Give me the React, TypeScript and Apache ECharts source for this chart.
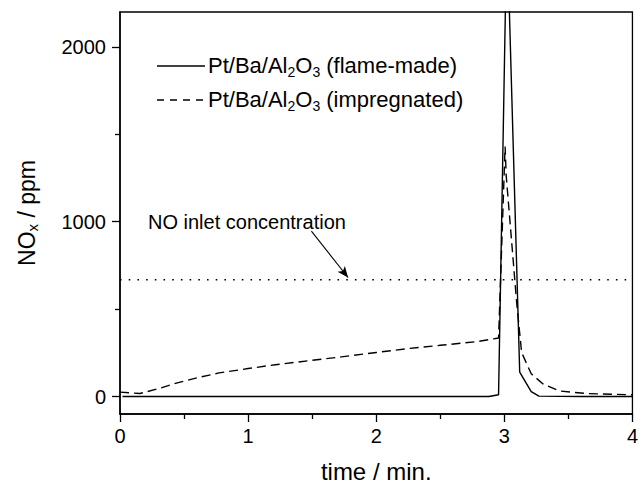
import React, { useEffect, useRef } from "react";
import * as echarts from "echarts";

// time (min) and NOx (ppm) for the flame-made catalyst
const timeFlame = [0.02, 1.0, 2.0, 2.88, 2.955, 3.02, 3.12, 3.21, 3.27, 3.6, 4.0];
const noxFlame = [0, 0, 0, 0, 10, 2700, 140, 28, 2, 0, 0];

// time (min) and NOx (ppm) for the impregnated catalyst
const timeImpr = [0, 0.155, 0.3, 0.44, 0.6, 0.774, 1.0, 1.213, 1.5, 1.728, 2.0, 2.245, 2.5, 2.786, 2.916, 2.955, 3.006, 3.015, 3.096, 3.135, 3.21, 3.3, 3.43, 3.64, 4.0];
const noxImpr = [25, 17, 45, 77, 107, 135, 160, 182, 207, 227, 252, 274, 293, 314, 330, 335, 1430, 1260, 540, 252, 130, 73, 32, 17, 10];

// NO inlet concentration (ppm)
const inletLevel = 668;
const inletStart = 0;
const inletEnd = 4;

// arrow annotation endpoints [time, ppm]
const arrowFrom = [1.494, 946];
const arrowTo = [1.78, 681];

const yMajorTicks = [0, 1000, 2000];
const yMinorTicks = [500, 1500];

const FONT = "'Liberation Sans', Arial, Helvetica, sans-serif";

const zip = (a: number[], b: number[]) => a.map((v, i) => [v, b[i]]);

export default function App() {
  const ref = useRef<HTMLDivElement>(null);
  useEffect(() => {
    if (!ref.current) return;
    const chart = echarts.init(ref.current, undefined, { renderer: "svg" });
    const rich = {
      s: { fontSize: 14, fontFamily: FONT, color: "#000", padding: [13, 0, 0, 0] },
    };
    chart.setOption({
      animation: false,
      backgroundColor: "#fff",
      textStyle: { fontFamily: FONT },
      grid: {
        left: 120,
        right: 4,
        top: 12,
        bottom: 67,
        show: true,
        borderColor: "#000",
        borderWidth: 1.3,
      },
      xAxis: {
        type: "value",
        min: 0,
        max: 4,
        interval: 1,
        name: "time / min.",
        nameLocation: "middle",
        nameGap: 45,
        nameTextStyle: { fontSize: 24, color: "#000", fontFamily: FONT },
        axisLine: { show: true, onZero: false, lineStyle: { color: "#000", width: 1.5 } },
        axisTick: { show: true, inside: false, length: 8, lineStyle: { color: "#000", width: 1.3 } },
        minorTick: { show: true, splitNumber: 2, length: 5, lineStyle: { color: "#000", width: 1.3 } },
        axisLabel: { fontSize: 20, color: "#000", margin: 12, fontFamily: FONT },
        splitLine: { show: false },
      },
      yAxis: [
        {
          type: "value",
          min: -100,
          max: 2200,
          position: "left",
          name: "NO{s|x} / ppm",
          nameLocation: "middle",
          nameGap: 80,
          nameRotate: 90,
          nameTextStyle: {
            fontSize: 23,
            color: "#000",
            fontFamily: FONT,
            rich: { s: { fontSize: 15, fontFamily: FONT, color: "#000", padding: [12, 0, 0, 0] } },
          },
          axisLine: { show: true, onZero: false, lineStyle: { color: "#000", width: 1.5 } },
          axisTick: { show: true, inside: false, length: 8, customValues: yMajorTicks, lineStyle: { color: "#000", width: 1.3 } },
          axisLabel: {
            fontSize: 20,
            color: "#000",
            margin: 14,
            customValues: yMajorTicks,
            fontFamily: FONT,
            formatter: (v: number) => String(v),
          },
          splitLine: { show: false },
        },
        {
          type: "value",
          min: -100,
          max: 2200,
          position: "left",
          offset: 0,
          axisLine: { show: false },
          axisTick: { show: true, inside: false, length: 5, customValues: yMinorTicks, lineStyle: { color: "#000", width: 1.3 } },
          axisLabel: { show: false },
          splitLine: { show: false },
        },
      ],
      series: [
        {
          type: "line",
          name: "flame-made",
          data: zip(timeFlame, noxFlame),
          symbol: "none",
          lineStyle: { color: "#000", width: 1.4, type: "solid" },
          clip: true,
        },
        {
          type: "line",
          name: "impregnated",
          data: zip(timeImpr, noxImpr),
          symbol: "none",
          lineStyle: { color: "#000", width: 1.4, type: [9, 5] },
          clip: true,
        },
        {
          type: "line",
          name: "inlet",
          data: [
            [inletStart, inletLevel],
            [inletEnd, inletLevel],
          ],
          symbol: "none",
          lineStyle: { color: "#000", width: 1.5, type: [1.6, 7.1] },
          markLine: {
            silent: true,
            symbol: ["none", "arrow"],
            symbolSize: [7, 11],
            label: { show: false },
            lineStyle: { color: "#000", width: 1.1, type: "solid" },
            data: [[{ coord: arrowFrom }, { coord: arrowTo }]],
          },
        },
      ],
      graphic: [
        {
          type: "line",
          shape: { x1: 157, y1: 66, x2: 205, y2: 66 },
          style: { stroke: "#000", lineWidth: 1.4 },
        },
        {
          type: "text",
          x: 208,
          y: 65,
          style: {
            text: "Pt/Ba/Al{s|2}O{s|3} (flame-made)",
            fontSize: 22,
            fontFamily: FONT,
            fill: "#000",
            verticalAlign: "middle",
            rich,
          },
        },
        {
          type: "line",
          shape: { x1: 157, y1: 100, x2: 205, y2: 100 },
          style: { stroke: "#000", lineWidth: 1.4, lineDash: [7, 6] },
        },
        {
          type: "text",
          x: 208,
          y: 99,
          style: {
            text: "Pt/Ba/Al{s|2}O{s|3} (impregnated)",
            fontSize: 22,
            fontFamily: FONT,
            fill: "#000",
            verticalAlign: "middle",
            rich,
          },
        },
        {
          type: "text",
          x: 148,
          y: 222,
          style: {
            text: "NO inlet concentration",
            fontSize: 20,
            fontFamily: FONT,
            fill: "#000",
            verticalAlign: "middle",
          },
        },
      ],
    });
    return () => chart.dispose();
  }, []);
  return (
    <div
      ref={ref}
      style={{ position: "fixed", left: 0, top: 0, width: 641, height: 488, background: "#fff" }}
    />
  );
}
